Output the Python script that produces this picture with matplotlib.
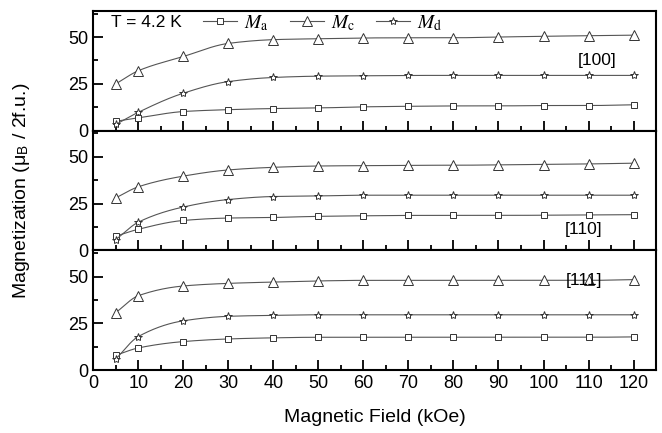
import numpy as np
import matplotlib.pyplot as plt
from matplotlib.ticker import MultipleLocator

plt.rcParams['font.family'] = ['Liberation Sans', 'DejaVu Sans']
plt.rcParams['mathtext.fontset'] = 'stix'

# field values (kOe)
field = [5, 10, 20, 30, 40, 50, 60, 70, 80, 90, 100, 110, 120]

# [100]
ma_100 = [5.0, 6.8, 10.2, 11.2, 11.8, 12.1, 12.7, 13.0, 13.2, 13.2, 13.4, 13.4, 13.8]
mc_100 = [25.0, 32.0, 39.6, 46.6, 48.6, 49.1, 49.5, 49.6, 49.6, 50.0, 50.4, 50.7, 51.0]
md_100 = [3.3, 9.8, 20.0, 26.2, 28.4, 29.1, 29.3, 29.5, 29.5, 29.5, 29.5, 29.5, 29.5]

# [110]
ma_110 = [7.6, 11.3, 16.0, 17.3, 17.6, 18.2, 18.5, 18.7, 18.7, 18.7, 18.8, 18.9, 19.1]
mc_110 = [28.1, 34.0, 39.7, 43.0, 44.4, 45.1, 45.3, 45.5, 45.5, 45.7, 45.9, 46.2, 46.6]
md_110 = [5.8, 15.1, 23.2, 27.2, 28.8, 29.1, 29.5, 29.5, 29.5, 29.5, 29.5, 29.5, 29.5]

# [111]
ma_111 = [8.0, 11.9, 15.3, 16.7, 17.3, 17.6, 17.6, 17.6, 17.6, 17.6, 17.6, 17.6, 17.8]
mc_111 = [30.8, 39.8, 45.0, 46.4, 47.1, 47.7, 48.0, 48.0, 48.0, 48.0, 48.0, 48.0, 48.4]
md_111 = [6.0, 18.0, 26.4, 28.8, 29.3, 29.6, 29.6, 29.6, 29.6, 29.6, 29.6, 29.6, 29.6]

panels = [("[100]", ma_100, mc_100, md_100, (112, 37.5)),
          ("[110]", ma_110, mc_110, md_110, (109, 11)),
          ("[111]", ma_111, mc_111, md_111, (109, 47.8))]


def pchip(x, y, xs):
    # monotone cubic curve through the measured points
    x = np.asarray(x, float); y = np.asarray(y, float)
    h = np.diff(x); d = np.diff(y) / h
    m = np.zeros_like(y)
    m[0], m[-1] = d[0], d[-1]
    for k in range(1, len(x) - 1):
        if d[k - 1] * d[k] > 0:
            w1 = 2 * h[k] + h[k - 1]
            w2 = h[k] + 2 * h[k - 1]
            m[k] = (w1 + w2) / (w1 / d[k - 1] + w2 / d[k])
    idx = np.clip(np.searchsorted(x, xs) - 1, 0, len(x) - 2)
    t = (xs - x[idx]) / h[idx]
    h00 = 2 * t**3 - 3 * t**2 + 1
    h10 = t**3 - 2 * t**2 + t
    h01 = -2 * t**3 + 3 * t**2
    h11 = t**3 - t**2
    return h00 * y[idx] + h10 * h[idx] * m[idx] + h01 * y[idx + 1] + h11 * h[idx] * m[idx + 1]


fig, axes = plt.subplots(3, 1, figsize=(6.62, 4.33), dpi=100, sharex=True)
fig.subplots_adjust(left=0.141, right=0.991, top=0.975, bottom=0.145, hspace=0)

xs = np.linspace(5, 120, 400)
styles = [("s", r"$M_\mathrm{a}$", 5), ("^", r"$M_\mathrm{c}$", 6.5), ("*", r"$M_\mathrm{d}$", 6)]
lc = "#555555"

for ax, (tag, ma, mc, md) in zip(axes, [p[:4] for p in panels]):
    for (mk, lab, ms), vals in zip(styles, [ma, mc, md]):
        ax.plot(xs, pchip(field, vals, xs), color=lc, lw=0.8)
        ax.plot(field, vals, ls="none", marker=mk, ms=ms, mfc="white",
                mec="#333333", mew=0.7)
    ax.set_xlim(0, 125)
    ax.set_ylim(0, 64)
    ax.set_yticks([0, 25, 50])
    ax.yaxis.set_minor_locator(MultipleLocator(12.5))
    ax.xaxis.set_major_locator(MultipleLocator(10))
    ax.xaxis.set_minor_locator(MultipleLocator(5))
    ax.tick_params(which="both", direction="in", top=False, right=False,
                   labelsize=13, width=1.3)
    ax.tick_params(which="major", length=7)
    ax.tick_params(which="minor", length=3.5)
    for s in ax.spines.values():
        s.set_linewidth(1.5)

for ax, p in zip(axes, panels):
    ax.text(p[4][0], p[4][1], p[0], ha="center", va="center", fontsize=12.5)

axes[-1].set_xticks(np.arange(0, 121, 10))
axes[-1].set_xlabel("Magnetic Field (kOe)", fontsize=14, labelpad=12)
fig.text(0.033, 0.56, r"Magnetization (μ$_{\mathregular{B}}$ / 2f.u.)",
         rotation=90, ha="center", va="center", fontsize=14)

# legend along the top of the first panel
axes[0].text(4, 57.5, "T = 4.2 K", ha="left", va="center", fontsize=12.5)
handles = [plt.Line2D([], [], color=lc, lw=0.8, marker=mk, ms=ms, mfc="white",
                      mec="#333333", mew=0.7) for mk, lab, ms in styles]
axes[0].legend(handles, [s[1] for s in styles], ncol=3, frameon=False,
               loc="center left", bbox_to_anchor=(0.195, 0.9),
               handlelength=1.75, handletextpad=0.35, columnspacing=1.1,
               fontsize=14, borderaxespad=0, borderpad=0)

fig.savefig("out.png", dpi=100)
